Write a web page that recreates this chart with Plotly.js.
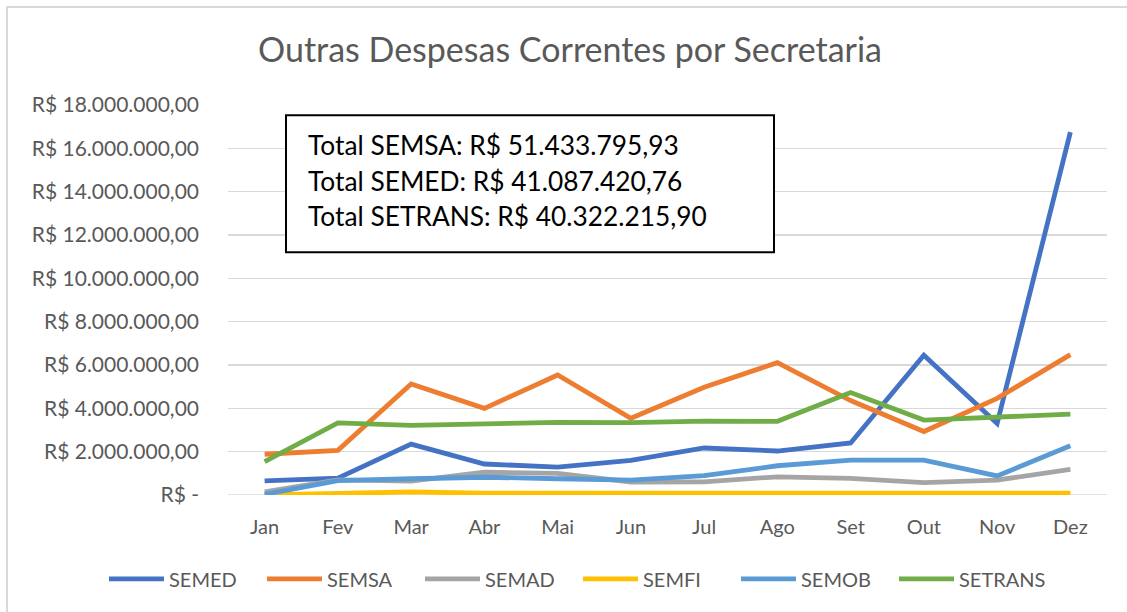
<!DOCTYPE html>
<html>
<head>
<meta charset="utf-8">
<script src="https://cdn.plot.ly/plotly-3.0.1.min.js"></script>
<style>
html,body{margin:0;padding:0;overflow:hidden;background:#fff;}
#chart{width:1127px;height:612px;}
#frame{position:absolute;left:6px;top:6px;width:1200px;height:700px;border:2px solid #d9d9d9;pointer-events:none;}
</style>
</head>
<body>
<div id="chart"></div>
<div id="frame"></div>
<script>
const months = ["Jan","Fev","Mar","Abr","Mai","Jun","Jul","Ago","Set","Out","Nov","Dez"];
const semed   = [650000, 780000, 2350000, 1430000, 1290000, 1600000, 2170000, 2030000, 2400000, 6450000, 3300000, 16750000];
const semsa   = [1880000, 2060000, 5130000, 4000000, 5540000, 3540000, 4970000, 6110000, 4360000, 2930000, 4460000, 6480000];
const semad   = [150000, 700000, 640000, 1050000, 1000000, 600000, 610000, 840000, 770000, 570000, 690000, 1180000];
const semfi   = [0, 50000, 140000, 80000, 80000, 100000, 80000, 80000, 100000, 100000, 80000, 80000];
const semob   = [30000, 660000, 750000, 820000, 750000, 690000, 890000, 1350000, 1610000, 1610000, 880000, 2270000];
const setrans = [1540000, 3330000, 3210000, 3270000, 3350000, 3340000, 3410000, 3400000, 4730000, 3460000, 3610000, 3730000];
const seriesNames = ["SEMED","SEMSA","SEMAD","SEMFI","SEMOB","SETRANS"];
const seriesColors = ["#4472C4","#ED7D31","#A5A5A5","#FFC000","#5B9BD5","#70AD47"];
const yTickVals = [0,2000000,4000000,6000000,8000000,10000000,12000000,14000000,16000000,18000000];
const yTickText = ["R$ -","R$ 2.000.000,00","R$ 4.000.000,00","R$ 6.000.000,00","R$ 8.000.000,00","R$ 10.000.000,00","R$ 12.000.000,00","R$ 14.000.000,00","R$ 16.000.000,00","R$ 18.000.000,00"];
const titleText = "Outras Despesas Correntes por Secretaria";
const boxLines = ["Total SEMSA: R$ 51.433.795,93","Total SEMED: R$ 41.087.420,76","Total SETRANS: R$ 40.322.215,90"];

const allData = [semed, semsa, semad, semfi, semob, setrans];
const FONT = "Lato, 'Open Sans', sans-serif";
const traces = allData.map((vals, i) => ({
  type: "scatter", mode: "lines", x: months, y: vals, name: seriesNames[i],
  line: {color: seriesColors[i], width: 4.8, shape: "linear"},
  hoverinfo: "x+y+name"
}));

// layout pixel geometry
const L = 228, R = 1107, T = 104.7, B = 495;
const W = R - L, H = B - T;
const px = x => (x - L) / W;
const py = y => (B - y) / H;

const annotations = boxLines.map((t, i) => ({
  xref: "paper", yref: "paper", x: px(306), y: py(145 + i * 35.5),
  xanchor: "left", yanchor: "middle", showarrow: false, align: "left",
  text: t, font: {family: FONT, size: 26.3, color: "#000000"}
}));

const layout = {
  width: 1127, height: 612,
  margin: {l: L, r: 1127 - R, t: T, b: 612 - B, pad: 0},
  paper_bgcolor: "#ffffff", plot_bgcolor: "#ffffff",
  font: {family: FONT, color: "#595959"},
  title: {text: titleText, font: {family: FONT, size: 34, color: "#595959"}, x: 570/1127, xref: "container", xanchor: "center", y: 1 - 50/612, yanchor: "middle"},
  showlegend: true,
  legend: {orientation: "h", x: px(104), xanchor: "left", y: py(579), yanchor: "middle",
    font: {family: FONT, size: 20, color: "#595959"}, itemwidth: 55, entrywidth: 88, entrywidthmode: "pixels",
    traceorder: "normal", bgcolor: "rgba(0,0,0,0)"},
  xaxis: {type: "category", range: [-0.5, 11.5], showgrid: false, zeroline: false, showline: false, automargin: false,
    ticks: "", tickfont: {family: FONT, size: 20, color: "#595959"}, ticklabelstandoff: 18, fixedrange: true},
  yaxis: {range: [0, 18000000], tickvals: yTickVals, ticktext: yTickText, showgrid: true, automargin: false,
    gridcolor: "#d9d9d9", gridwidth: 1.5, zeroline: false, showline: false, ticks: "",
    tickfont: {family: FONT, size: 21, color: "#595959"}, ticklabelstandoff: 28, fixedrange: true},
  shapes: [
    {type: "line", xref: "paper", yref: "y", x0: 0, x1: 1, y0: 0, y1: 0, line: {color: "#d9d9d9", width: 1.5}, layer: "below"},
    {type: "rect", xref: "paper", yref: "paper", x0: px(286), x1: px(774), y0: py(252), y1: py(115),
     line: {color: "#000000", width: 2}, fillcolor: "#ffffff", layer: "above"}
  ],
  annotations: annotations
};

Plotly.newPlot("chart", traces, layout, {displayModeBar: false, staticPlot: true});
</script>
</body>
</html>
